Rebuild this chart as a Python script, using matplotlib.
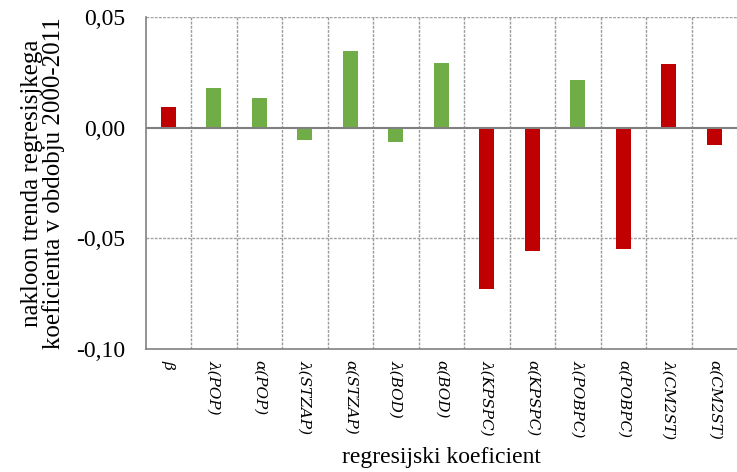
import matplotlib
matplotlib.use("Agg")
import matplotlib.pyplot as plt
import numpy as np

categories = ["β", "λ(POP)", "α(POP)", "λ(STZAP)", "α(STZAP)", "λ(BOD)", "α(BOD)",
              "λ(KPSPC)", "α(KPSPC)", "λ(POBPC)", "α(POBPC)", "λ(CM2ST)", "α(CM2ST)"]
values = [0.0095, 0.0181, 0.0136, -0.0054, 0.0348, -0.0063, 0.0294,
          -0.0727, -0.0556, 0.0217, -0.0547, 0.0289, -0.0077]
colors_key = ["r", "g", "g", "g", "g", "g", "g", "r", "r", "g", "r", "r", "r"]
yticks = [0.05, 0.00, -0.05, -0.10]
ytick_labels = ["0,05", "0,00", "-0,05", "-0,10"]

cmap = {"r": "#C00000", "g": "#70AD47"}

fig = plt.figure(figsize=(7.37, 4.72), dpi=100)
ax = fig.add_axes([0.1977, 0.2606, 0.8023, 0.7027])

x = np.arange(len(categories))
ax.bar(x, values, width=0.33, color=[cmap[c] for c in colors_key], zorder=3)

ax.set_xlim(-0.5, len(categories) - 0.5)
ax.set_ylim(-0.10, 0.05)

# gridlines
for b in np.arange(0.5, len(categories) - 0.5, 1):
    ax.axvline(b, color="#9a9a9a", lw=1.0, ls=(0, (2, 1)), zorder=1)
for yv in [0.05, -0.05]:
    ax.axhline(yv, color="#a0a0a0", lw=1.0, ls=(0, (2, 1)), zorder=1)
ax.axhline(0, color="#808080", lw=1.5, zorder=4)

for s in ["top", "right"]:
    ax.spines[s].set_visible(False)
for s in ["left", "bottom"]:
    ax.spines[s].set_color("#808080")
    ax.spines[s].set_linewidth(1.2)

ax.set_yticks(yticks)
ax.set_yticklabels(ytick_labels, fontfamily="Liberation Serif", fontsize=17)
ax.tick_params(axis="y", length=0, pad=15)

ax.set_xticks(x)
ax.set_xticklabels(categories, rotation=270, fontfamily="DejaVu Serif",
                   fontstyle="italic", fontsize=11, ha="center", va="top")
ax.tick_params(axis="x", length=0, pad=8)

ax.set_xlabel("regresijski koeficient", fontfamily="Liberation Serif", fontsize=17, labelpad=5)
ax.set_ylabel("nakloon trenda regresisjkega\nkoeficienta v obdobju 2000-2011",
              fontfamily="Liberation Serif", fontsize=18, labelpad=8, linespacing=0.95)

fig.savefig("out.png", dpi=100)
